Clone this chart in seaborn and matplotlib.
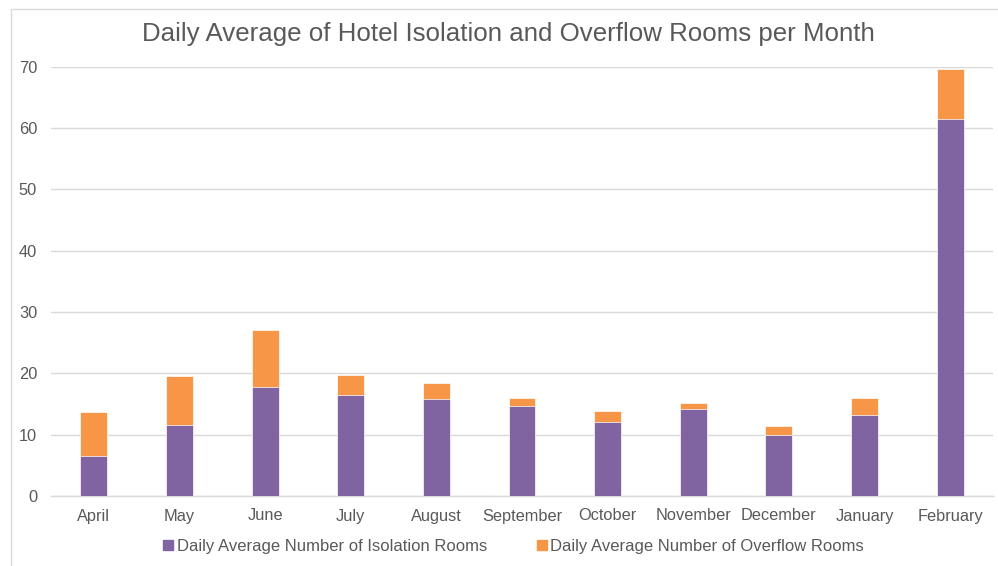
import numpy as np
import pandas as pd
import matplotlib
matplotlib.use("Agg")
import matplotlib.pyplot as plt
from matplotlib.patches import Rectangle
from matplotlib.lines import Line2D
import seaborn as sns

months = ['April', 'May', 'June', 'July', 'August', 'September',
          'October', 'November', 'December', 'January', 'February']
isolation = [6.6, 11.5, 17.8, 16.4, 15.8, 14.7, 12.0, 14.2, 9.9, 13.2, 61.4]
overflow = [7.1, 8.0, 9.2, 3.4, 2.7, 1.3, 1.9, 0.9, 1.5, 2.8, 8.3]
series_names = ['Daily Average Number of Isolation Rooms',
                'Daily Average Number of Overflow Rooms']
y_ticks = [0, 10, 20, 30, 40, 50, 60, 70]

purple = '#8064A2'
orange = '#F79646'
text_col = '#595959'
grid_col = '#D9D9D9'

sns.set_theme(style='white')
plt.rcParams['font.family'] = ['Liberation Sans', 'DejaVu Sans']

df = pd.DataFrame({'Month': months, 'Isolation': isolation, 'Overflow': overflow})
df['Total'] = df['Isolation'] + df['Overflow']

fig = plt.figure(figsize=(9.98, 5.66), dpi=100)
ax = fig.add_axes([51 / 998, 70 / 566, 942 / 998, 429.3 / 566])

# stacked bars: total first (orange), isolation on top of it (purple)
sns.barplot(data=df, x='Month', y='Total', color=orange, width=0.315,
            saturation=1, ax=ax, edgecolor='white', linewidth=0.5, zorder=3)
sns.barplot(data=df, x='Month', y='Isolation', color=purple, width=0.315,
            saturation=1, ax=ax, edgecolor='white', linewidth=0.5, zorder=4)

ax.set_xlim(-0.5, len(months) - 0.5)
ax.set_ylim(0, 70)
ax.set_yticks(y_ticks)
ax.yaxis.grid(True, color=grid_col, linewidth=1)
ax.set_axisbelow(True)
for s in ['left', 'right', 'top']:
    ax.spines[s].set_visible(False)
ax.spines['bottom'].set_color(grid_col)
ax.spines['bottom'].set_linewidth(1)
ax.set_xlabel('')
ax.set_ylabel('')
ax.tick_params(axis='both', length=0, labelsize=11.8, labelcolor=text_col)
ax.tick_params(axis='y', pad=10)
ax.tick_params(axis='x', pad=9)

fig.text(508 / 998, 1 - 34 / 566,
         'Daily Average of Hotel Isolation and Overflow Rooms per Month',
         ha='center', va='center', fontsize=18.6, color=text_col)

handles = [Line2D([], [], marker='s', linestyle='none', markersize=7,
                  markerfacecolor=purple, markeredgecolor=purple),
           Line2D([], [], marker='s', linestyle='none', markersize=7,
                  markerfacecolor=orange, markeredgecolor=orange)]
fig.legend(handles, series_names, loc='center', bbox_to_anchor=(512 / 998, 1 - 546 / 566),
           ncol=2, frameon=False, fontsize=12, labelcolor=text_col,
           handletextpad=0.0, columnspacing=2.8, handlelength=1.0)

# chart area border
fig.patches.append(Rectangle((10.5 / 998, -0.1), 1.2, 1.1 - 9 / 566,
                             transform=fig.transFigure, fill=False,
                             edgecolor='#D9D9D9', linewidth=1))

fig.savefig('out.png', dpi=100, facecolor='white')
